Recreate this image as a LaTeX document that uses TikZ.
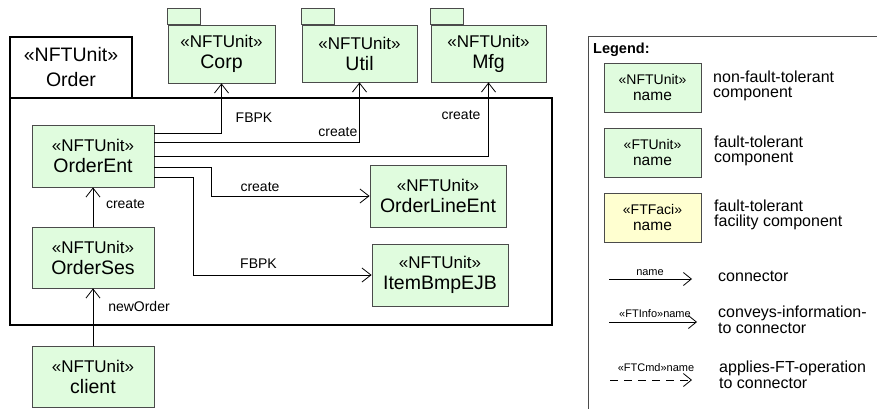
\documentclass[tikz,border=0pt]{standalone}
\usepackage{fontspec}
\setmainfont{Liberation Sans}
\usetikzlibrary{arrows.meta}
\definecolor{nftgreen}{RGB}{224,252,222}
\definecolor{facyellow}{RGB}{255,255,208}
\definecolor{boxline}{RGB}{75,75,75}
\newcommand{\myfs}[2]{\fontsize{#1}{#2}\selectfont}
\newcommand{\ut}[1]{{\myfs{17}{21}«NFTUnit»}\\{\myfs{19.5}{21}#1}}
\newcommand{\lt}[1]{{\myfs{14}{16}«#1»}\\{\myfs{15.5}{16}name}}
\tikzset{
  unit/.style={draw=boxline, fill=nftgreen, line width=0.8pt, align=center, inner sep=0pt, font=\myfs{18}{21}},
  pkgtab/.style={draw=boxline, fill=nftgreen, line width=0.8pt},
  frame/.style={draw=black, line width=1.6pt, inner sep=0pt},
  conn/.style={draw=black, line width=0.8pt, -{Straight Barb[length=9pt,width=14pt,line width=0.8pt]}},
  lconn/.style={draw=black, line width=0.8pt, -{Straight Barb[length=8pt,width=13pt,line width=0.8pt]}},
  lbl/.style={font=\myfs{14}{16}, inner sep=0pt},
  smlbl/.style={font=\myfs{11}{13}, inner sep=0pt},
  desc/.style={font=\myfs{16}{15.5}, inner sep=0pt, anchor=west, align=left},
  lbox/.style={draw=boxline, line width=0.8pt, align=center, inner sep=0pt, font=\myfs{14}{16}, minimum width=97pt, minimum height=49pt}
}
\begin{document}
\begin{tikzpicture}[x=1pt,y=-1pt]
\clip (0,0) rectangle (877,408);
\fill[white] (0,0) rectangle (877,408);

% Order frame
\node[frame, minimum width=542pt, minimum height=227pt] (orderframe) at (281,211.5) {};
\node[frame, fill=white, minimum width=122pt, minimum height=61pt, align=center, font=\myfs{19.5}{25}] (ordertab) at (71,67.5) {«NFTUnit»\\Order};

% packages
\node[unit, minimum width=107pt, minimum height=58pt] (corp) at (221.5,54) {\ut{Corp}};
\draw[pkgtab] (corp.north west) rectangle ++(33,-16);
\node[unit, minimum width=115pt, minimum height=57pt] (util) at (359.5,53.5) {\ut{Util}};
\draw[pkgtab] (util.north west) rectangle ++(33,-16);
\node[unit, minimum width=115pt, minimum height=57pt] (mfg) at (488.5,53.5) {\ut{Mfg}};
\draw[pkgtab] (mfg.north west) rectangle ++(33,-16);

% units
\node[unit, minimum width=122pt, minimum height=62pt] (orderent) at (93,156) {\ut{OrderEnt}};
\node[unit, minimum width=122pt, minimum height=61pt] (orderses) at (93,257.5) {\ut{OrderSes}};
\node[unit, minimum width=122pt, minimum height=61pt] (client) at (93,376.5) {\ut{client}};
\node[unit, minimum width=136pt, minimum height=62pt] (orderline) at (438,196) {\ut{OrderLineEnt}};
\node[unit, minimum width=136pt, minimum height=62pt] (itembmp) at (440,275) {\ut{ItemBmpEJB}};

% connectors
\draw[conn] ([yshift=23pt]orderent.east) -| (corp.south);
\draw[conn] ([yshift=14pt]orderent.east) -| (util.south);
\draw[conn] ([yshift=0pt]orderent.east) -| (mfg.south);
\draw[conn] ([yshift=-11pt]orderent.east) -- ++(57,0) |- (orderline.west);
\draw[conn] ([yshift=-21pt]orderent.east) -- ++(39,0) |- (itembmp.west);
\draw[conn] (orderses.north) -- (orderent.south);
\draw[conn] (client.north) -- (orderses.south);

% connector labels
\node[lbl] (l1) at (254,117.5) {FBPK};
\node[lbl, anchor=east] (l2) at (357.5,132) {create};
\node[lbl] (l3) at (461,115) {create};
\node[lbl] (l4) at (260,187) {create};
\node[lbl] (l5) at (258.5,263.5) {FBPK};
\node[lbl] (l6) at (125.5,204) {create};
\node[lbl] (l7) at (139,306) {newOrder};

% legend
\node[draw=boxline, line width=1pt, minimum width=400pt, minimum height=400pt, anchor=north west, inner sep=0pt] (legend) at (588,36) {};
\node[font=\bfseries\myfs{14.5}{16}, inner sep=0pt, anchor=west] (legtitle) at (593,50) {Legend:};
\node[lbox, fill=nftgreen] (lg1) at (652.5,87.5) {\lt{NFTUnit}};
\node[lbox, fill=nftgreen] (lg2) at (652.5,152.5) {\lt{FTUnit}};
\node[lbox, fill=facyellow] (lg3) at (652.5,217.5) {\lt{FTFaci}};
\node[desc] (d1) at (713,86) {non-fault-tolerant\\component};
\node[desc] (d2) at (714,151) {fault-tolerant\\component};
\node[desc] (d3) at (714,215) {fault-tolerant\\facility component};

\coordinate (c1s) at (609,279); \coordinate (c1e) at (692,279);
\coordinate (c2s) at (609,322); \coordinate (c2e) at (697,322);
\coordinate (c3s) at (610,380); \coordinate (c3e) at (692,380);
\draw[lconn] (c1s) -- (c1e);
\draw[lconn] (c2s) -- (c2e);
\draw[lconn, dash pattern=on 8pt off 6pt] (c3s) -- (c3e);
\node[smlbl] (cl1) at (650,273) {name};
\node[smlbl] (cl2) at (655,314) {«FTInfo»name};
\node[smlbl] (cl3) at (656,368) {«FTCmd»name};
\node[desc] (d4) at (718,276) {connector};
\node[desc] (d5) at (718,320) {conveys-information-\\to connector};
\node[desc] (d6) at (719,375) {applies-FT-operation\\to connector};
\end{tikzpicture}
\end{document}
